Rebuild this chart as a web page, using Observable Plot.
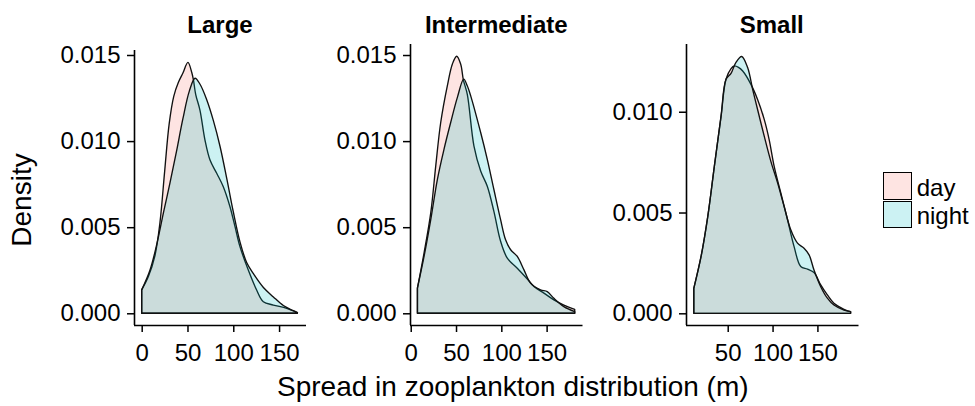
<!DOCTYPE html>
<html><head><meta charset="utf-8">
<script src="https://cdn.jsdelivr.net/npm/d3@7"></script>
<script src="https://cdn.jsdelivr.net/npm/@observablehq/plot@0.6"></script>
<style>
body{margin:0;background:#fff;}
#wrap{position:relative;width:975px;height:406px;overflow:hidden;font-family:"Liberation Sans",Arial,sans-serif;color:#000;background:#fff;}
.abs{position:absolute;white-space:nowrap;}
</style></head><body><div id="wrap"></div>
<script>
// ---- data ----
const panels = ["Large", "Intermediate", "Small"];
const groups = ["day", "night"];
const groupColors = ["#F8766D", "#00BFC4"];
const xAxisTitle = "Spread in zooplankton distribution (m)";
const yAxisTitle = "Density";

const largeDayX = [0, 7.3, 14.5, 20, 25, 30, 35, 40, 45, 50.5, 54.6, 56.5, 59, 63.6, 69.1, 74.6, 81.9, 89.1, 96.4, 101.9, 107.3, 116.4, 125.5, 132.8, 143.7, 158.3, 170];
const largeDayD = [0.00136, 0.00213, 0.00335, 0.0053, 0.0082, 0.0110, 0.0126, 0.0134, 0.01395, 0.01457, 0.0140, 0.01355, 0.0127, 0.0118, 0.01006, 0.0089, 0.00813, 0.00735, 0.00619, 0.00503, 0.00387, 0.00251, 0.00135, 0.00067, 0.00048, 0.00029, 0.00004];
const largeNightX = [0, 9, 16, 24, 31, 38, 45, 52, 58.2, 63.7, 71, 78.2, 85.5, 92.8, 100, 107.3, 114.6, 122, 132.9, 143.8, 154.7, 165.5, 170];
const largeNightD = [0.00136, 0.0025, 0.0039, 0.0059, 0.0076, 0.0094, 0.0113, 0.0129, 0.01365, 0.0133, 0.0124, 0.0112, 0.0097, 0.00785, 0.0059, 0.00415, 0.00295, 0.0023, 0.0015, 0.00095, 0.00045, 0.00015, 0.00004];

const interDayX = [7.4, 14.7, 22.1, 27.6, 33.1, 40.4, 46, 50.7, 55.1, 58.1, 62.5, 69.8, 77.2, 84.5, 91.8, 99.2, 106.6, 117.6, 128.7, 136, 147, 158, 169, 181];
const interDayD = [0.00146, 0.0035, 0.00583, 0.00855, 0.01108, 0.01321, 0.01448, 0.01493, 0.01448, 0.01356, 0.0127, 0.00971, 0.00826, 0.00738, 0.00592, 0.00418, 0.0032, 0.00262, 0.00199, 0.00155, 0.00117, 0.00078, 0.00048, 0.00023];
const interNightX = [7.4, 14.7, 22.1, 29.4, 36.7, 44.1, 51.5, 58.5, 62.5, 66.2, 77.2, 84.5, 91.8, 99.2, 104.7, 110.3, 117.6, 125, 132.3, 143.3, 150.7, 158, 169, 181];
const interNightD = [0.00146, 0.0033, 0.00544, 0.00777, 0.00952, 0.01108, 0.01254, 0.0136, 0.0132, 0.01263, 0.0105, 0.00894, 0.00719, 0.00544, 0.00427, 0.00369, 0.0033, 0.00252, 0.00175, 0.00136, 0.00126, 0.00087, 0.00039, 0.0001];

const smallDayX = [12.2, 20.3, 27.8, 35.1, 42.6, 48.1, 53.7, 57.4, 62, 66.7, 75.9, 83.3, 90.7, 96.2, 101.8, 109.2, 116.7, 124, 131.4, 138.9, 146.2, 153.7, 161.1, 168.4, 179.6, 187];
const smallDayD = [0.00124, 0.00282, 0.00481, 0.00729, 0.00978, 0.01161, 0.01214, 0.01227, 0.0122, 0.01202, 0.01136, 0.01061, 0.00962, 0.00862, 0.00729, 0.00597, 0.00464, 0.00331, 0.00232, 0.00219, 0.00202, 0.00141, 0.00091, 0.0005, 0.0002, 0.00008];
const smallNightX = [12.2, 20.3, 27.8, 35.1, 42.6, 48.1, 53.7, 59.2, 65.6, 72.2, 77.8, 83.3, 90.7, 98.1, 105.6, 112.9, 120.3, 127.8, 135.1, 140.7, 146.2, 153.7, 161.1, 168.4, 179.6, 187];
const smallNightD = [0.00124, 0.00282, 0.00481, 0.00729, 0.00978, 0.01161, 0.0119, 0.01245, 0.01274, 0.01219, 0.01111, 0.01011, 0.00879, 0.00754, 0.00647, 0.0053, 0.00414, 0.00348, 0.00323, 0.0029, 0.00215, 0.00132, 0.00075, 0.00041, 0.00016, 0.00008];

const xTickValues = [[0, 50, 100, 150], [0, 50, 100, 150], [50, 100, 150]];
const yTickValues = [[0, 0.005, 0.010, 0.015], [0, 0.005, 0.010, 0.015], [0, 0.005, 0.010]];

// ---- build tables ----
function rows(xs, ds, group) { return xs.map((x, i) => ({group, x, d: ds[i]})); }
const panelData = [
  [...rows(largeDayX, largeDayD, "day"), ...rows(largeNightX, largeNightD, "night")],
  [...rows(interDayX, interDayD, "day"), ...rows(interNightX, interNightD, "night")],
  [...rows(smallDayX, smallDayD, "day"), ...rows(smallNightX, smallNightD, "night")]
];

// ---- layout (pixels) ----
const FRAME_BOTTOM = 325;
const layout = [
  {left: 134, right: 306, top: 50, xDomain: [-8.4, 179.4], yDomain: [-0.00068, 0.01529]},
  {left: 410, right: 582.5, top: 44, xDomain: [-0.8, 189.6], yDomain: [-0.00068, 0.01564]},
  {left: 685.5, right: 858, top: 44, xDomain: [3.5, 195.8], yDomain: [-0.00058, 0.01336]}
];
const ML = 100, MR = 2, H = 406;
const wrap = document.getElementById("wrap");
const font = '"Liberation Sans", Arial, sans-serif';

panels.forEach((name, i) => {
  const L = layout[i];
  const width = L.right - L.left + ML + MR;
  const chart = Plot.plot({
    width, height: H,
    marginLeft: ML, marginRight: MR, marginTop: L.top, marginBottom: H - FRAME_BOTTOM,
    style: {fontFamily: font, fontSize: "24px", color: "#000", background: "transparent", maxWidth: "none", overflow: "visible"},
    x: {domain: L.xDomain},
    y: {domain: L.yDomain},
    color: {domain: groups, range: groupColors},
    marks: [
      Plot.areaY(panelData[i], {x: "x", y2: "d", z: "group", fill: "group", fillOpacity: 0.2, stroke: "#111", strokeWidth: 1.35, curve: "catmull-rom"}),
      Plot.ruleX([L.xDomain[0]], {stroke: "black", strokeWidth: 1.6}),
      Plot.ruleY([L.yDomain[0]], {stroke: "black", strokeWidth: 1.6}),
      Plot.axisY({ticks: yTickValues[i], tickSize: 7, tickPadding: 7, tickFormat: d3.format(".3f"), strokeWidth: 1.5, label: null}),
      Plot.axisX({ticks: xTickValues[i], tickSize: 7, tickPadding: 11, tickFormat: d3.format("d"), strokeWidth: 1.5, label: null})
    ]
  });
  const holder = document.createElement("div");
  holder.className = "abs";
  holder.style.left = (L.left - ML) + "px";
  holder.style.top = "0px";
  holder.appendChild(chart);
  wrap.appendChild(holder);

  const t = document.createElement("div");
  t.className = "abs";
  t.textContent = name;
  t.style.cssText += `font-weight:bold;font-size:24px;line-height:24px;top:${33 - 20.3}px;left:${(L.left + L.right) / 2}px;transform:translateX(-50%);`;
  wrap.appendChild(t);
});

// axis titles
const xt = document.createElement("div");
xt.className = "abs";
xt.textContent = xAxisTitle;
xt.style.cssText += "font-size:28px;line-height:28px;top:372.5px;left:512.8px;transform:translateX(-50%);";
wrap.appendChild(xt);

const yt = document.createElement("div");
yt.className = "abs";
yt.textContent = yAxisTitle;
yt.style.cssText += "font-size:28px;line-height:28px;top:200px;left:22px;transform:translate(-50%,-50%) rotate(-90deg);";
wrap.appendChild(yt);

// legend
groups.forEach((g, i) => {
  const c = d3.color(groupColors[i]);
  const key = document.createElement("div");
  key.className = "abs";
  key.style.cssText += `left:883.3px;top:${172.3 + i * 28.4}px;width:28.4px;height:27.4px;box-sizing:border-box;border:1.5px solid #000;background:rgba(${c.r},${c.g},${c.b},0.2);`;
  wrap.appendChild(key);
  const lab = document.createElement("div");
  lab.className = "abs";
  lab.textContent = g;
  lab.style.cssText += `left:916.7px;top:${196.5 + i * 27.5 - 20.3}px;font-size:24px;line-height:24px;`;
  wrap.appendChild(lab);
});
</script></body></html>
